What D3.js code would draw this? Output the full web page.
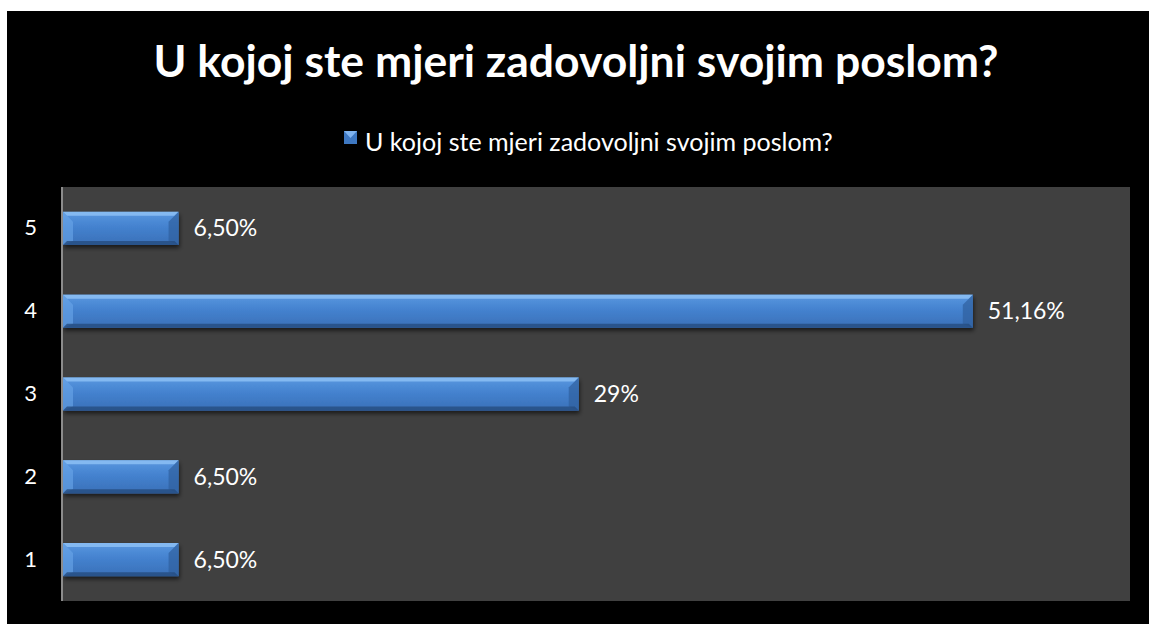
<!DOCTYPE html>
<html>
<head>
<meta charset="utf-8">
<script src="https://cdn.jsdelivr.net/npm/d3@7"></script>
<style>
  html, body { margin: 0; padding: 0; background: #fff; }
  svg { display: block; font-family: Lato, "Open Sans", sans-serif; }
</style>
</head>
<body>
<svg id="chart"></svg>
<script>
const title = 'U kojoj ste mjeri zadovoljni svojim poslom?'
const seriesName = 'U kojoj ste mjeri zadovoljni svojim poslom?'
const categories = ['1', '2', '3', '4', '5']
const values = [6.5, 6.5, 29, 51.16, 6.5]
const valueLabels = ['6,50%', '6,50%', '29%', '51,16%', '6,50%']

const width = 1149
const height = 624
const plot = { left: 62, top: 187, right: 1130, bottom: 601 }

const svg = d3.select('#chart').attr('width', width).attr('height', height)

// black chart frame sits slightly inside the white page
svg.append('rect').attr('x', 7).attr('y', 11).attr('width', width - 7).attr('height', height - 11).attr('fill', '#000')

const defs = svg.append('defs')
const grad = defs.append('linearGradient').attr('id', 'barFill').attr('x1', 0).attr('y1', 0).attr('x2', 0).attr('y2', 1)
grad.append('stop').attr('offset', '0%').attr('stop-color', '#5a98e0')
grad.append('stop').attr('offset', '45%').attr('stop-color', '#4482cf')
grad.append('stop').attr('offset', '100%').attr('stop-color', '#3a70b8')
const shadow = defs.append('filter').attr('id', 'shadow').attr('x', '-5%').attr('y', '-20%').attr('width', '110%').attr('height', '160%')
shadow.append('feGaussianBlur').attr('in', 'SourceAlpha').attr('stdDeviation', 2)
shadow.append('feOffset').attr('dx', 1).attr('dy', 3).attr('result', 'b')
shadow.append('feComponentTransfer').append('feFuncA').attr('type', 'linear').attr('slope', 0.6)
const merge = shadow.append('feMerge')
merge.append('feMergeNode')
merge.append('feMergeNode').attr('in', 'SourceGraphic')

// plot area
svg.append('rect')
    .attr('x', plot.left).attr('y', plot.top)
    .attr('width', plot.right - plot.left).attr('height', plot.bottom - plot.top)
    .attr('fill', '#404040')

const x = d3.scaleLinear().domain([0, 60]).range([plot.left + 1, plot.right])
const y = d3.scaleBand().domain(categories.slice().reverse()).range([plot.top, plot.bottom]).paddingInner(0.6).paddingOuter(0.3)

// title
const titleText = svg.append('text')
    .attr('x', 576).attr('y', 77)
    .attr('text-anchor', 'middle')
    .attr('fill', '#fff').attr('font-weight', 'bold').attr('font-size', 40)
    .text(title)
const tw = titleText.node().getComputedTextLength()
titleText.attr('font-size', 40 * 845 / tw)

// legend
const legend = svg.append('g')
legend.append('rect').attr('x', 344).attr('y', 131).attr('width', 13).attr('height', 13).attr('fill', '#3e78c2')
legend.append('path').attr('d', 'M344,131 L357,131 L350.5,138 Z').attr('fill', '#7fb3ef')
const legendText = legend.append('text')
    .attr('x', 365).attr('y', 151)
    .attr('fill', '#fff').attr('font-size', 20)
    .text(seriesName)
const lw = legendText.node().getComputedTextLength()
legendText.attr('font-size', 20 * 468 / lw)

// bars with bevelled edges
const bh = y.bandwidth()
const bev = 4
const bars = svg.append('g').selectAll('g').data(values).join('g')
    .attr('transform', (d, i) => `translate(${x(0)},${y(categories[i])})`)

bars.append('rect')
    .attr('width', d => x(d) - x(0)).attr('height', bh)
    .attr('fill', 'url(#barFill)')
    .attr('filter', 'url(#shadow)')
bars.append('path')   // top bevel
    .attr('d', d => { const w = x(d) - x(0); return `M0,0 L${w},0 L${w - bev},${bev} L${bev},${bev} Z` })
    .attr('fill', '#8cc0f5').attr('opacity', 0.85)
bars.append('path')   // left bevel
    .attr('d', `M0,0 L${bev * 2.5},${bev * 2.5} L${bev * 2.5},${bh - bev} L0,${bh} Z`)
    .attr('fill', '#6aa6ea').attr('opacity', 0.6)
bars.append('path')   // right bevel
    .attr('d', d => { const w = x(d) - x(0); return `M${w},0 L${w},${bh} L${w - bev * 2.5},${bh - bev} L${w - bev * 2.5},${bev * 2.5} Z` })
    .attr('fill', '#2f5f9e').attr('opacity', 0.7)
bars.append('path')   // bottom bevel
    .attr('d', d => { const w = x(d) - x(0); return `M0,${bh} L${w},${bh} L${w - bev},${bh - bev} L${bev},${bh - bev} Z` })
    .attr('fill', '#254c80').attr('opacity', 0.8)

// value labels
svg.append('g').selectAll('text').data(values).join('text')
    .attr('x', d => x(d) + 15)
    .attr('y', (d, i) => y(categories[i]) + bh / 2 + 8)
    .attr('fill', '#fff').attr('font-size', 23)
    .text((d, i) => valueLabels[i])

// category axis
const axis = svg.append('g').attr('transform', `translate(${plot.left},0)`)
    .call(d3.axisLeft(y).tickSize(0).tickPadding(25))
axis.select('.domain').attr('stroke', '#8c8c8c').attr('stroke-width', 2)
    .attr('d', `M0,${plot.top}V${plot.bottom}`)
axis.selectAll('text').attr('fill', '#fff').attr('font-size', 22).attr('font-family', 'Lato, sans-serif')
</script>
</body>
</html>
